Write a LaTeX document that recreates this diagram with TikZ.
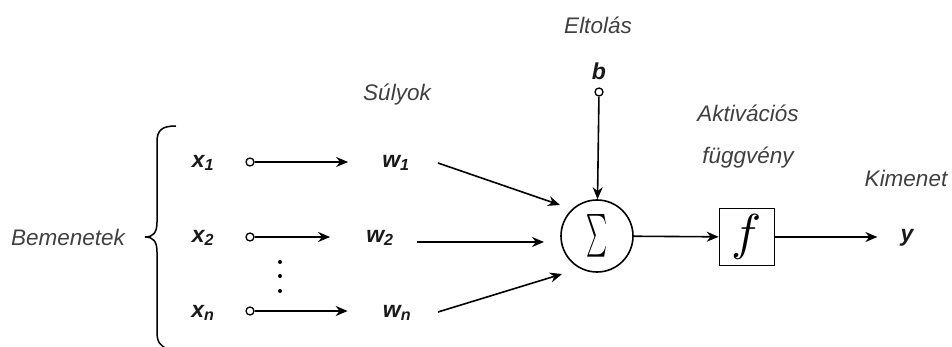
\documentclass[tikz,border=0pt]{standalone}
\usepackage{fontspec}
\usepackage{graphicx}
\setmainfont{Liberation Sans}
\usetikzlibrary{arrows.meta}
\definecolor{lbl}{HTML}{404040}
\definecolor{ink}{HTML}{1A1A1A}
\begin{document}
\begin{tikzpicture}[x=1pt,y=-1pt,
  lab/.style={font=\fontsize{22.5}{27}\selectfont\itshape, text=lbl, inner sep=0pt},
  var/.style={font=\fontsize{23}{27}\selectfont\bfseries\itshape, text=ink, inner sep=0pt},
  arr/.style={-{Stealth[length=12pt,width=10pt]}, line width=1.6pt},
  port/.style={circle, draw, fill=white, minimum size=8pt, inner sep=0pt, line width=1.3pt},
  dotm/.style={circle, fill=black, minimum size=4pt, inner sep=0pt},
  sumnode/.style={circle, draw, minimum size=72pt, inner sep=0pt, line width=1.6pt},
  actbox/.style={draw, minimum width=55pt, minimum height=57pt, inner sep=0pt, line width=1.6pt}
]
\useasboundingbox (0,0) rectangle (952,347);

% labels
\node[lab] (bem) at (68,237) {Bemenetek};
\node[lab] (suly) at (397,95) {Súlyok};
\node[lab] (elt) at (598,25) {Eltolás};
\node[lab] (akt1) at (748,113) {Aktivációs};
\node[lab] (akt2) at (748,158) {függvény};
\node[lab] (kim) at (906,178) {Kimenet};

% brace
\draw[line width=1.5pt] (176,126) .. controls (162,126) and (157,130) .. (157,142)
  -- (157,222) .. controls (157,233) and (153,237) .. (145,237)
  .. controls (153,237) and (157,241) .. (157,252)
  -- (157,332) .. controls (157,342) and (160,346) .. (168,349);

% inputs
\node[var] (x1) at (203,163) {x\textsubscript{1}};
\node[var] (x2) at (203,238) {x\textsubscript{2}};
\node[var] (xn) at (203,313) {x\textsubscript{n}};
\node[port] (p1) at (250,162) {};
\node[port] (p2) at (250,237) {};
\node[port] (pn) at (250,311) {};
\node[dotm] (d1) at (280,262) {};
\node[dotm] (d2) at (280,276) {};
\node[dotm] (d3) at (280,291) {};

% weights
\node[var] (w1) at (396,163) {w\textsubscript{1}};
\node[var] (w2) at (380,238) {w\textsubscript{2}};
\node[var] (wn) at (397,313) {w\textsubscript{n}};

\draw[arr, shorten >=34pt] (p1) -- (p1 -| w1.west);
\draw[arr, shorten >=36pt] (p2) -- (p2 -| w2.west);
\draw[arr, shorten >=35pt] (pn) -- (pn -| wn.west);

% summation
\node[sumnode] (sig) at (597,236) {\resizebox{21pt}{32pt}{$\sum$}};
\node[var] (b) at (599,71) {b};
\node[port] (pb) at (599,92) {};
\draw[arr] (pb) -- (sig);

\coordinate (a1s) at (438,163);
\coordinate (a1e) at (560,205);
\coordinate (a2s) at (417,242);
\coordinate (a2e) at (544,242);
\coordinate (a3s) at (438,312);
\coordinate (a3e) at (562,274);
\draw[arr] (a1s) -- (a1e);
\draw[arr] (a2s) -- (a2e);
\draw[arr] (a3s) -- (a3e);

% activation
\node[actbox] (fb) at (747,237) {\resizebox{!}{35pt}{$f$}};
\draw[arr] (sig) -- (fb);
\node[var] (y) at (907,238) {y};
\draw[arr, shorten >=23pt] (fb.east) -- (fb.east -| y.west);
\end{tikzpicture}
\end{document}
